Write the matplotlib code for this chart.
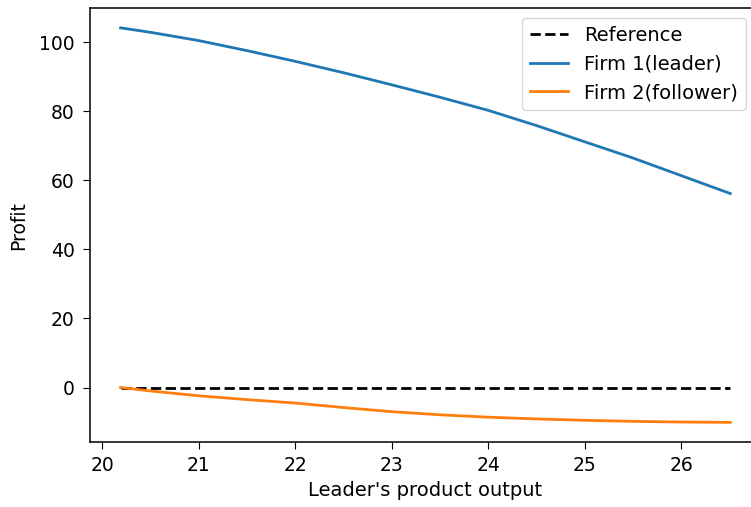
import matplotlib.pyplot as plt

# values
output = [20.19, 20.5, 21, 21.5, 22, 22.5, 23, 23.5, 24, 24.5, 25, 25.5, 26, 26.51]
firm1 = [104.2, 102.9, 100.5, 97.6, 94.5, 91.2, 87.7, 84.1, 80.3, 75.9, 71.2, 66.5, 61.4, 56.2]
firm2 = [0, -1.0, -2.4, -3.5, -4.5, -5.8, -7.0, -7.9, -8.6, -9.1, -9.5, -9.8, -10.0, -10.1]
reference = [0] * len(output)

plt.rcParams['font.size'] = 13.5
plt.rcParams['xtick.major.size'] = 5
plt.rcParams['ytick.major.size'] = 5
plt.rcParams['xtick.major.pad'] = 5
plt.rcParams['ytick.major.pad'] = 6
plt.rcParams['axes.linewidth'] = 1.1

fig = plt.figure(figsize=(7.51, 5.07), dpi=100)
ax = fig.add_axes([0.12, 0.128, 0.893, 0.856])

ax.plot(output, reference, 'k--', lw=2, label='Reference')
ax.plot(output, firm1, lw=2, label='Firm 1(leader)')
ax.plot(output, firm2, lw=2, label='Firm 2(follower)')

ax.set_xlabel("Leader's product output", fontsize=14)
ax.set_ylabel('Profit', labelpad=8)
ax.legend(loc='upper right', bbox_to_anchor=(0.992, 1.0), fontsize=14)

fig.savefig('out.png', dpi=100)
